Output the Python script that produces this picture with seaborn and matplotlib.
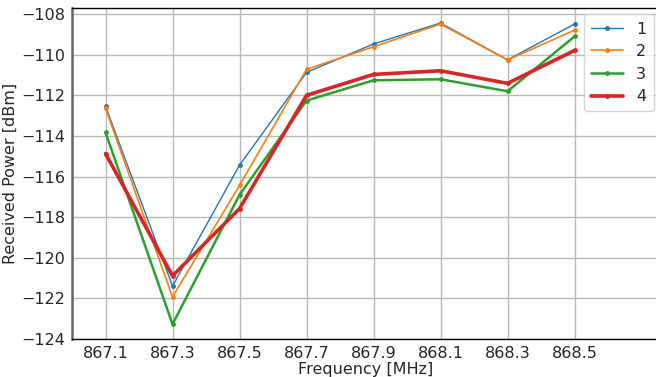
import numpy as np
import pandas as pd
import matplotlib
matplotlib.use("Agg")
import matplotlib.pyplot as plt
import seaborn as sns

freqs = [867.1, 867.3, 867.5, 867.7, 867.9, 868.1, 868.3, 868.5]
s1 = [-112.54, -121.39, -115.44, -110.87, -109.47, -108.44, -110.25, -108.49]
s2 = [-112.64, -121.93, -116.44, -110.72, -109.61, -108.49, -110.26, -108.79]
s3 = [-113.83, -123.27, -116.90, -112.26, -111.26, -111.21, -111.80, -109.10]
s4 = [-114.87, -120.89, -117.58, -112.00, -110.97, -110.79, -111.41, -109.79]
labels = ["1", "2", "3", "4"]
series = [s1, s2, s3, s4]

sns.set_style("whitegrid")
plt.rcParams['font.family'] = ['DejaVu Sans']

rows = []
for lab, vals in zip(labels, series):
    for f, v in zip(freqs, vals):
        rows.append({"Frequency": f, "Power": v, "Series": lab})
df = pd.DataFrame(rows)

fig = plt.figure(figsize=(6.56, 3.77), dpi=100)
# axes extends slightly past the right edge of the image (as in the reference)
ax = fig.add_axes([72/656, 1-339/377, (660-72)/656, (339-8)/377])

colors = sns.color_palette("tab10", 4)
widths = [1.0, 1.2, 1.8, 2.6]
for lab, c, w in zip(labels, colors, widths):
    sns.lineplot(data=df[df["Series"] == lab], x="Frequency", y="Power",
                 color=c, linewidth=w, marker="o", markersize=3.5,
                 markeredgewidth=0, label=lab, ax=ax)

ax.set_xlim(867.0, 868.755)
ax.set_ylim(-124, -107.7)
ax.set_xticks(freqs)
ax.set_xticklabels([f"{f:.1f}" for f in freqs])
ax.set_yticks(np.arange(-124, -107, 2))
ax.set_xlabel("Frequency [MHz]", fontsize=11.5, labelpad=1)
ax.set_ylabel("Received Power [dBm]", fontsize=11.5, labelpad=2)
ax.tick_params(labelsize=11.5, length=3, pad=2, color="#333333")
ax.grid(True, color="#b8b8b8", linewidth=1.0)
for sp in ["top", "bottom", "right"]:
    ax.spines[sp].set_color("black")
    ax.spines[sp].set_linewidth(1.0)
ax.spines["left"].set_color("#666666")
ax.spines["left"].set_linewidth(1.8)

leg = ax.legend(loc="upper right", fontsize=11.5, frameon=True, handlelength=2.0,
                labelspacing=0.47, borderaxespad=0.4, borderpad=0.45)
leg.get_frame().set_edgecolor("#cccccc")

fig.savefig("out.png", dpi=100)
